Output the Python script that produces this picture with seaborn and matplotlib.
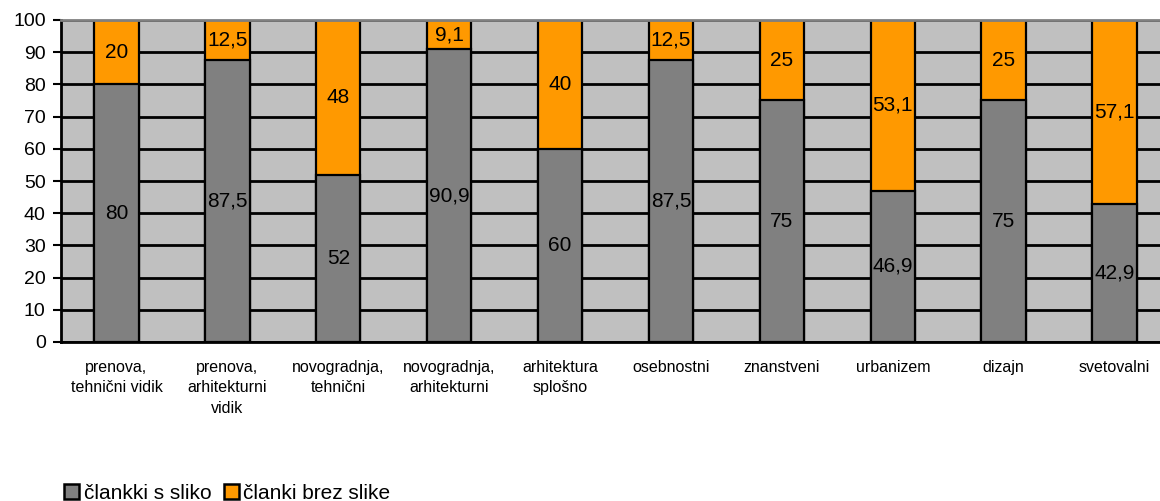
import matplotlib
matplotlib.use("Agg")
import matplotlib.pyplot as plt
from matplotlib.patches import Patch
import seaborn as sns
import pandas as pd

categories = [
    "prenova,\ntehnični vidik",
    "prenova,\narhitekturni\nvidik",
    "novogradnja,\ntehnični",
    "novogradnja,\narhitekturni",
    "arhitektura\nsplošno",
    "osebnostni",
    "znanstveni",
    "urbanizem",
    "dizajn",
    "svetovalni",
]
s_sliko = [80, 87.5, 52, 90.9, 60, 87.5, 75, 46.9, 75, 42.9]
brez_slike = [20, 12.5, 48, 9.1, 40, 12.5, 25, 53.1, 25, 57.1]
series_names = ["člankki s sliko", "članki brez slike"]

GRAY = "#808080"
ORANGE = "#FF9900"
BG = "#C0C0C0"

sns.set_style("white")
plt.rcParams["font.family"] = ["Liberation Sans", "DejaVu Sans"]
plt.rcParams["text.color"] = "black"
plt.rcParams["xtick.labelcolor"] = "black"
plt.rcParams["ytick.labelcolor"] = "black"

df = pd.DataFrame({"cat": categories, "s": s_sliko, "b": brez_slike})
df["total"] = df["s"] + df["b"]

fig = plt.figure(figsize=(11.6, 5.01), dpi=100)
ax = fig.add_axes([61 / 1160, 1 - 342 / 501, 1109 / 1160, 322 / 501])
ax.set_facecolor(BG)

# stacked bars: full height in orange, lower segment in gray on top
sns.barplot(data=df, x="cat", y="total", color=ORANGE, width=0.4, ax=ax,
            edgecolor="black", linewidth=1.6, saturation=1)
sns.barplot(data=df, x="cat", y="s", color=GRAY, width=0.4, ax=ax,
            edgecolor="black", linewidth=1.6, saturation=1)

def fmt(v):
    return f"{v:g}".replace(".", ",")

for i, (a, b) in enumerate(zip(s_sliko, brez_slike)):
    ax.text(i, a / 2, fmt(a), ha="center", va="center", fontsize=15, color="black")
    ax.text(i, a + b / 2, fmt(b), ha="center", va="center", fontsize=15, color="black")

ax.set_xlim(-0.5, len(categories) - 0.5)
ax.set_ylim(0, 100)
ax.set_yticks(range(0, 101, 10))
ax.yaxis.grid(True, color="black", linewidth=2)
ax.set_axisbelow(True)
ax.tick_params(axis="y", labelsize=14, length=6, width=1.5, direction="out",
               left=True, colors="black", labelcolor="black", pad=5)

ax.set_xticks(range(len(categories)))
ax.set_xticklabels(categories, fontsize=11.5, linespacing=1.45)
ax.tick_params(axis="x", length=0, pad=13, labelcolor="black")
ax.set_xticks([i - 0.5 for i in range(len(categories) + 1)], minor=True)
ax.tick_params(axis="x", which="minor", length=6, width=1.5, direction="out", color="black")

ax.set_xlabel("")
ax.set_ylabel("")
for side in ["left", "bottom"]:
    ax.spines[side].set_color("black")
    ax.spines[side].set_linewidth(2)
ax.spines["top"].set_color(GRAY)
ax.spines["top"].set_linewidth(2)
ax.spines["right"].set_visible(False)

handles = [Patch(facecolor=GRAY, edgecolor="black", linewidth=1.8),
           Patch(facecolor=ORANGE, edgecolor="black", linewidth=1.8)]
fig.legend(handles, series_names, loc="lower left", bbox_to_anchor=(56 / 1160, -0.02),
           ncol=2, frameon=False, fontsize=15, handlelength=0.72, handleheight=0.72,
           handletextpad=0.2, columnspacing=0.6, borderaxespad=0, labelcolor="black")

fig.savefig("out.png", dpi=100)
